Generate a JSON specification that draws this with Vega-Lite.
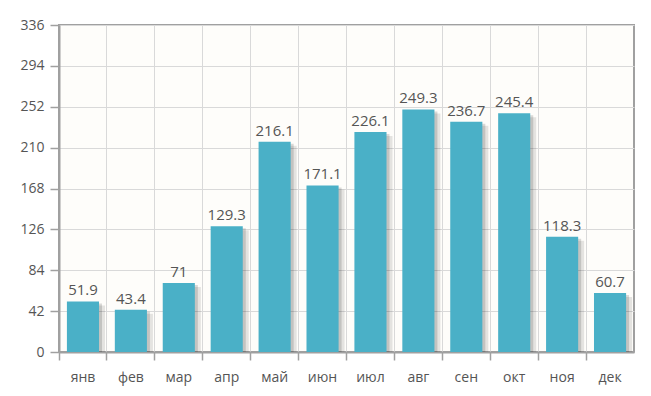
{
  "$schema": "https://vega.github.io/schema/vega-lite/v6.json",
  "width": 575,
  "height": 327,
  "autosize": "none",
  "padding": {"left": 59, "top": 25, "right": 17, "bottom": 44},
  "background": "#ffffff",
  "config": {
    "view": {"stroke": "#a0a0a0", "strokeWidth": 2, "fill": "#fefdfa"},
    "font": "Open Sans"
  },
  "data": {
    "values": [
      {"month": "янв", "value": 51.9},
      {"month": "фев", "value": 43.4},
      {"month": "мар", "value": 71},
      {"month": "апр", "value": 129.3},
      {"month": "май", "value": 216.1},
      {"month": "июн", "value": 171.1},
      {"month": "июл", "value": 226.1},
      {"month": "авг", "value": 249.3},
      {"month": "сен", "value": 236.7},
      {"month": "окт", "value": 245.4},
      {"month": "ноя", "value": 118.3},
      {"month": "дек", "value": 60.7}
    ]
  },
  "encoding": {
    "x": {
      "field": "month", "type": "nominal", "sort": null,
      "scale": {"paddingInner": 0, "paddingOuter": 0},
      "axis": {
        "title": null, "bandPosition": 0, "labelAngle": 0,
        "grid": true, "gridColor": "#d9d9d9", "gridWidth": 1,
        "domainColor": "#a0a0a0", "domainWidth": 2,
        "tickColor": "#a0a0a0", "tickWidth": 1.5, "tickSize": 8,
        "labelFont": "Open Sans", "labelFontSize": 14, "labelColor": "#555555",
        "labelPadding": 10
      }
    },
    "y": {
      "field": "value", "type": "quantitative",
      "scale": {"domain": [0, 336], "nice": false},
      "axis": {
        "title": null, "values": [0, 42, 84, 126, 168, 210, 252, 294, 336],
        "grid": true, "gridColor": "#d9d9d9", "gridWidth": 1,
        "domainColor": "#a0a0a0", "domainWidth": 2,
        "tickColor": "#a0a0a0", "tickWidth": 1.5, "tickSize": 9,
        "labelFont": "Open Sans", "labelFontSize": 14, "labelColor": "#555555",
        "labelPadding": 6
      }
    }
  },
  "layer": [
    {
      "mark": {"type": "bar", "width": {"band": 0.67}, "color": "#000000", "opacity": 0.1, "xOffset": 6, "yOffset": 4, "clip": true}
    },
    {
      "mark": {"type": "bar", "width": {"band": 0.67}, "color": "#000000", "opacity": 0.14, "xOffset": 3, "yOffset": 2, "clip": true}
    },
    {
      "mark": {"type": "bar", "width": {"band": 0.67}, "color": "#4ab0c7"}
    },
    {
      "mark": {"type": "text", "baseline": "alphabetic", "dy": -6, "fontSize": 15, "color": "#555555", "font": "Open Sans"},
      "encoding": {"text": {"field": "value", "type": "quantitative"}}
    }
  ]
}
